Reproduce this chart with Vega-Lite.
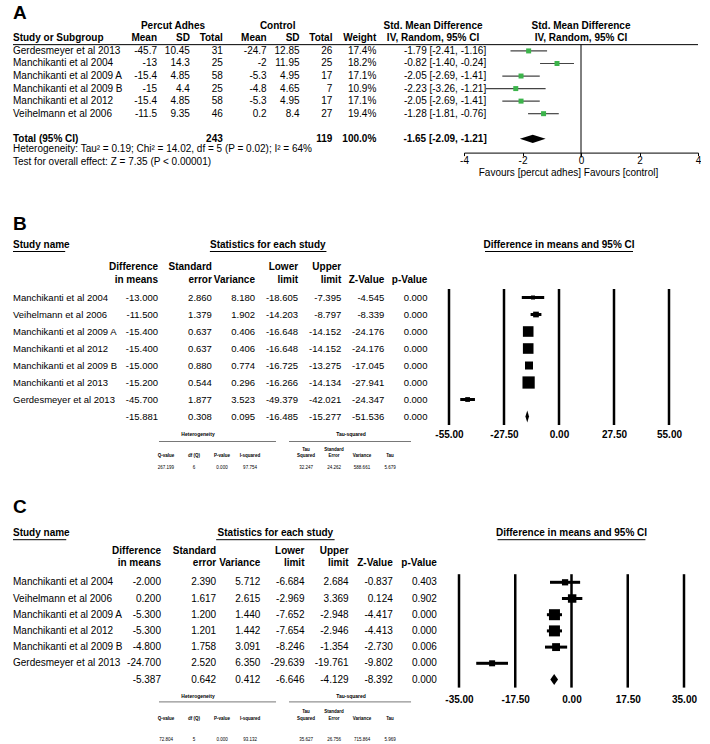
{
"$schema":"https://vega.github.io/schema/vega-lite/v6.json",
"background":"white",
"padding":{"left":12,"top":4,"right":0,"bottom":0},
"spacing":0,
"resolve":{"scale":{"size":"independent"}},
"config":{
 "view":{"stroke":null},
 "mark":{"color":"#000"},
 "text":{"font":"Liberation Sans","fontSize":10,"color":"#000","baseline":"middle"},
 "rule":{"color":"#000"},
 "point":{"filled":true,"opacity":1,"color":"#000"},
 "axis":{"labelFont":"Liberation Sans","titleFont":"Liberation Sans"},
 "locale":{"number":{"decimal":".","thousands":",","grouping":[3],"currency":["$",""],"minus":"-"}}
},
"datasets":{
 "a":[
  {"study":"Gerdesmeyer et al 2013","m1":-45.7,"sd1":10.45,"n1":31,"m2":-24.7,"sd2":12.85,"n2":26,"w":0.174,"smd":-1.79,"lo":-2.41,"hi":-1.16,"ci":"-1.79 [-2.41, -1.16]"},
  {"study":"Manchikanti et al 2004","m1":-13,"sd1":14.3,"n1":25,"m2":-2,"sd2":11.95,"n2":25,"w":0.182,"smd":-0.82,"lo":-1.40,"hi":-0.24,"ci":"-0.82 [-1.40, -0.24]"},
  {"study":"Manchikanti et al 2009 A","m1":-15.4,"sd1":4.85,"n1":58,"m2":-5.3,"sd2":4.95,"n2":17,"w":0.171,"smd":-2.05,"lo":-2.69,"hi":-1.41,"ci":"-2.05 [-2.69, -1.41]"},
  {"study":"Manchikanti et al 2009 B","m1":-15,"sd1":4.4,"n1":25,"m2":-4.8,"sd2":4.65,"n2":7,"w":0.109,"smd":-2.23,"lo":-3.26,"hi":-1.21,"ci":"-2.23 [-3.26, -1.21]"},
  {"study":"Manchikanti et al 2012","m1":-15.4,"sd1":4.85,"n1":58,"m2":-5.3,"sd2":4.95,"n2":17,"w":0.171,"smd":-2.05,"lo":-2.69,"hi":-1.41,"ci":"-2.05 [-2.69, -1.41]"},
  {"study":"Veihelmann et al 2006","m1":-11.5,"sd1":9.35,"n1":46,"m2":0.2,"sd2":8.4,"n2":27,"w":0.194,"smd":-1.28,"lo":-1.81,"hi":-0.76,"ci":"-1.28 [-1.81, -0.76]"}
 ],
 "aTot":[{"row":"Total","n1":243,"n2":119,"w":1,"smd":-1.65,"lo":-2.09,"hi":-1.21,"ci":"-1.65 [-2.09, -1.21]"}],
 "b":[
  {"study":"Manchikanti et al 2004","diff":-13.0,"se":2.86,"var":8.18,"lo":-18.605,"hi":-7.395,"z":-4.545,"p":0.0},
  {"study":"Veihelmann et al 2006","diff":-11.5,"se":1.379,"var":1.902,"lo":-14.203,"hi":-8.797,"z":-8.339,"p":0.0},
  {"study":"Manchikanti et al 2009 A","diff":-15.4,"se":0.637,"var":0.406,"lo":-16.648,"hi":-14.152,"z":-24.176,"p":0.0},
  {"study":"Manchikanti et al 2012","diff":-15.4,"se":0.637,"var":0.406,"lo":-16.648,"hi":-14.152,"z":-24.176,"p":0.0},
  {"study":"Manchikanti et al 2009 B","diff":-15.0,"se":0.88,"var":0.774,"lo":-16.725,"hi":-13.275,"z":-17.045,"p":0.0},
  {"study":"Manchikanti et al 2013","diff":-15.2,"se":0.544,"var":0.296,"lo":-16.266,"hi":-14.134,"z":-27.941,"p":0.0},
  {"study":"Gerdesmeyer et al 2013","diff":-45.7,"se":1.877,"var":3.523,"lo":-49.379,"hi":-42.021,"z":-24.347,"p":0.0},
  {"study":"Summary","diff":-15.881,"se":0.308,"var":0.095,"lo":-16.485,"hi":-15.277,"z":-51.536,"p":0.0}
 ],
 "c":[
  {"study":"Manchikanti et al 2004","diff":-2.0,"se":2.39,"var":5.712,"lo":-6.684,"hi":2.684,"z":-0.837,"p":0.403},
  {"study":"Veihelmann et al 2006","diff":0.2,"se":1.617,"var":2.615,"lo":-2.969,"hi":3.369,"z":0.124,"p":0.902},
  {"study":"Manchikanti et al 2009 A","diff":-5.3,"se":1.2,"var":1.44,"lo":-7.652,"hi":-2.948,"z":-4.417,"p":0.0},
  {"study":"Manchikanti et al 2012","diff":-5.3,"se":1.201,"var":1.442,"lo":-7.654,"hi":-2.946,"z":-4.413,"p":0.0},
  {"study":"Manchikanti et al 2009 B","diff":-4.8,"se":1.758,"var":3.091,"lo":-8.246,"hi":-1.354,"z":-2.73,"p":0.006},
  {"study":"Gerdesmeyer et al 2013","diff":-24.7,"se":2.52,"var":6.35,"lo":-29.639,"hi":-19.761,"z":-9.802,"p":0.0},
  {"study":"Summary","diff":-5.387,"se":0.642,"var":0.412,"lo":-6.646,"hi":-4.129,"z":-8.392,"p":0.0}
 ],
 "bHet":[{"Q":267.199,"df":6,"P":0.0,"I2":97.754,"tau2":32.247,"se":24.262,"var":588.661,"tau":5.679}],
 "cHet":[{"Q":72.804,"df":5,"P":0.0,"I2":93.132,"tau2":35.627,"se":26.756,"var":715.864,"tau":5.969}]
},
"vconcat":[
 {"hconcat":[
  {"width":144,"height":{"step":12.55},"layer":[
   {"data":{"values":[{"row":"_t","text":"A"}]},"mark":{"type":"text","align":"left","fontSize":19,"fontWeight":"bold"},
    "encoding":{"x":{"datum":0,"type":"quantitative","scale":{"domain":[0,1]},"axis":null},"y":{"field":"row","type":"nominal","scale":{"type":"band","padding":0,"domain":["_t","h1","h2","Gerdesmeyer et al 2013","Manchikanti et al 2004","Manchikanti et al 2009 A","Manchikanti et al 2009 B","Manchikanti et al 2012","Veihelmann et al 2006","_b","Total","Het","Test"]},"axis":null},"text":{"field":"text","type":"nominal"}}},
   {"data":{"values":[{"row":"h2","text":"Study or Subgroup"},{"row":"Total","text":"Total (95% CI)"}]},"mark":{"type":"text","align":"left","fontWeight":"bold"},
    "encoding":{"x":{"datum":0,"type":"quantitative","scale":{"domain":[0,1]},"axis":null},"y":{"field":"row","type":"nominal","scale":{"type":"band","padding":0,"domain":["_t","h1","h2","Gerdesmeyer et al 2013","Manchikanti et al 2004","Manchikanti et al 2009 A","Manchikanti et al 2009 B","Manchikanti et al 2012","Veihelmann et al 2006","_b","Total","Het","Test"]},"axis":null},"text":{"field":"text","type":"nominal"}}},
   {"data":{"name":"a"},"mark":{"type":"text","align":"left"},
    "encoding":{"x":{"datum":0,"type":"quantitative","scale":{"domain":[0,1]},"axis":null},"y":{"field":"study","type":"nominal","scale":{"type":"band","padding":0,"domain":["_t","h1","h2","Gerdesmeyer et al 2013","Manchikanti et al 2004","Manchikanti et al 2009 A","Manchikanti et al 2009 B","Manchikanti et al 2012","Veihelmann et al 2006","_b","Total","Het","Test"]},"axis":null},"text":{"field":"study","type":"nominal"}}},
   {"data":{"values":[{"row":"Het","text":"Heterogeneity: Tau² = 0.19; Chi² = 14.02, df = 5 (P = 0.02); I² = 64%"},{"row":"Test","text":"Test for overall effect: Z = 7.35 (P < 0.00001)"}]},"mark":{"type":"text","align":"left","dy":-2},
    "encoding":{"x":{"datum":0,"type":"quantitative","scale":{"domain":[0,1]},"axis":null},"y":{"field":"row","type":"nominal","scale":{"type":"band","padding":0,"domain":["_t","h1","h2","Gerdesmeyer et al 2013","Manchikanti et al 2004","Manchikanti et al 2009 A","Manchikanti et al 2009 B","Manchikanti et al 2012","Veihelmann et al 2006","_b","Total","Het","Test"]},"axis":null},"text":{"field":"text","type":"nominal"}}},
   {"data":{"values":[{}]},"mark":{"type":"rule","strokeWidth":1},
    "encoding":{"y":{"datum":"Gerdesmeyer et al 2013","type":"nominal","bandPosition":0,"scale":{"type":"band","padding":0,"domain":["_t","h1","h2","Gerdesmeyer et al 2013","Manchikanti et al 2004","Manchikanti et al 2009 A","Manchikanti et al 2009 B","Manchikanti et al 2012","Veihelmann et al 2006","_b","Total","Het","Test"]},"axis":null}}}
  ]},
  {"width":307,"height":{"step":12.55},"layer":[
   {"data":{"values":[{"row":"h1","col":"m1","text":"Percut Adhes"}]},"mark":{"type":"text","align":"center","fontWeight":"bold","dx":16},
    "encoding":{"x":{"field":"col","type":"nominal","scale":{"type":"point","domain":["m1","_a","_b","sd1","_c","_d","n1","_e","_f","_g","m2","_h","_i","sd2","_j","_k","n2","_l","_m","_n","w","_o","_p","_q","_r","_s","ci"],"padding":2.66,"align":0},"axis":null},"y":{"field":"row","type":"nominal","scale":{"type":"band","padding":0,"domain":["_t","h1","h2","Gerdesmeyer et al 2013","Manchikanti et al 2004","Manchikanti et al 2009 A","Manchikanti et al 2009 B","Manchikanti et al 2012","Veihelmann et al 2006","_b","Total","Het","Test"]},"axis":null},"text":{"field":"text","type":"nominal"}}},
   {"data":{"values":[{"row":"h1","col":"m2","text":"Control"}]},"mark":{"type":"text","align":"center","fontWeight":"bold","dx":11},
    "encoding":{"x":{"field":"col","type":"nominal","scale":{"type":"point","domain":["m1","_a","_b","sd1","_c","_d","n1","_e","_f","_g","m2","_h","_i","sd2","_j","_k","n2","_l","_m","_n","w","_o","_p","_q","_r","_s","ci"],"padding":2.66,"align":0},"axis":null},"y":{"field":"row","type":"nominal","scale":{"type":"band","padding":0,"domain":["_t","h1","h2","Gerdesmeyer et al 2013","Manchikanti et al 2004","Manchikanti et al 2009 A","Manchikanti et al 2009 B","Manchikanti et al 2012","Veihelmann et al 2006","_b","Total","Het","Test"]},"axis":null},"text":{"field":"text","type":"nominal"}}},
   {"data":{"values":[{"row":"h1","col":"ci","text":"Std. Mean Difference"},{"row":"h2","col":"ci","text":"IV, Random, 95% CI"}]},"mark":{"type":"text","align":"center","fontWeight":"bold","dx":-9},
    "encoding":{"x":{"field":"col","type":"nominal","scale":{"type":"point","domain":["m1","_a","_b","sd1","_c","_d","n1","_e","_f","_g","m2","_h","_i","sd2","_j","_k","n2","_l","_m","_n","w","_o","_p","_q","_r","_s","ci"],"padding":2.66,"align":0},"axis":null},"y":{"field":"row","type":"nominal","scale":{"type":"band","padding":0,"domain":["_t","h1","h2","Gerdesmeyer et al 2013","Manchikanti et al 2004","Manchikanti et al 2009 A","Manchikanti et al 2009 B","Manchikanti et al 2012","Veihelmann et al 2006","_b","Total","Het","Test"]},"axis":null},"text":{"field":"text","type":"nominal"}}},
   {"data":{"values":[{"row":"h2","col":"m1","text":"Mean"},{"row":"h2","col":"sd1","text":"SD"},{"row":"h2","col":"n1","text":"Total"},{"row":"h2","col":"m2","text":"Mean"},{"row":"h2","col":"sd2","text":"SD"},{"row":"h2","col":"n2","text":"Total"},{"row":"h2","col":"w","text":"Weight"}]},"mark":{"type":"text","align":"right","fontWeight":"bold"},
    "encoding":{"x":{"field":"col","type":"nominal","scale":{"type":"point","domain":["m1","_a","_b","sd1","_c","_d","n1","_e","_f","_g","m2","_h","_i","sd2","_j","_k","n2","_l","_m","_n","w","_o","_p","_q","_r","_s","ci"],"padding":2.66,"align":0},"axis":null},"y":{"field":"row","type":"nominal","scale":{"type":"band","padding":0,"domain":["_t","h1","h2","Gerdesmeyer et al 2013","Manchikanti et al 2004","Manchikanti et al 2009 A","Manchikanti et al 2009 B","Manchikanti et al 2012","Veihelmann et al 2006","_b","Total","Het","Test"]},"axis":null},"text":{"field":"text","type":"nominal"}}},
   {"data":{"name":"a"},"transform":[{"fold":["m1","sd1","n1","m2","sd2","n2"],"as":["col","val"]}],"mark":{"type":"text","align":"right"},
    "encoding":{"x":{"field":"col","type":"nominal","scale":{"type":"point","domain":["m1","_a","_b","sd1","_c","_d","n1","_e","_f","_g","m2","_h","_i","sd2","_j","_k","n2","_l","_m","_n","w","_o","_p","_q","_r","_s","ci"],"padding":2.66,"align":0},"axis":null},"y":{"field":"study","type":"nominal","scale":{"type":"band","padding":0,"domain":["_t","h1","h2","Gerdesmeyer et al 2013","Manchikanti et al 2004","Manchikanti et al 2009 A","Manchikanti et al 2009 B","Manchikanti et al 2012","Veihelmann et al 2006","_b","Total","Het","Test"]},"axis":null},"text":{"field":"val","type":"nominal"}}},
   {"data":{"name":"a"},"mark":{"type":"text","align":"right"},
    "encoding":{"x":{"datum":"w","type":"nominal","scale":{"type":"point","domain":["m1","_a","_b","sd1","_c","_d","n1","_e","_f","_g","m2","_h","_i","sd2","_j","_k","n2","_l","_m","_n","w","_o","_p","_q","_r","_s","ci"],"padding":2.66,"align":0},"axis":null},"y":{"field":"study","type":"nominal","scale":{"type":"band","padding":0,"domain":["_t","h1","h2","Gerdesmeyer et al 2013","Manchikanti et al 2004","Manchikanti et al 2009 A","Manchikanti et al 2009 B","Manchikanti et al 2012","Veihelmann et al 2006","_b","Total","Het","Test"]},"axis":null},"text":{"field":"w","type":"quantitative","format":".1%"}}},
   {"data":{"name":"a"},"mark":{"type":"text","align":"center","dx":3},
    "encoding":{"x":{"datum":"ci","type":"nominal","scale":{"type":"point","domain":["m1","_a","_b","sd1","_c","_d","n1","_e","_f","_g","m2","_h","_i","sd2","_j","_k","n2","_l","_m","_n","w","_o","_p","_q","_r","_s","ci"],"padding":2.66,"align":0},"axis":null},"y":{"field":"study","type":"nominal","scale":{"type":"band","padding":0,"domain":["_t","h1","h2","Gerdesmeyer et al 2013","Manchikanti et al 2004","Manchikanti et al 2009 A","Manchikanti et al 2009 B","Manchikanti et al 2012","Veihelmann et al 2006","_b","Total","Het","Test"]},"axis":null},"text":{"field":"ci","type":"nominal"}}},
   {"data":{"name":"aTot"},"transform":[{"fold":["n1","n2"],"as":["col","val"]}],"mark":{"type":"text","align":"right","fontWeight":"bold"},
    "encoding":{"x":{"field":"col","type":"nominal","scale":{"type":"point","domain":["m1","_a","_b","sd1","_c","_d","n1","_e","_f","_g","m2","_h","_i","sd2","_j","_k","n2","_l","_m","_n","w","_o","_p","_q","_r","_s","ci"],"padding":2.66,"align":0},"axis":null},"y":{"field":"row","type":"nominal","scale":{"type":"band","padding":0,"domain":["_t","h1","h2","Gerdesmeyer et al 2013","Manchikanti et al 2004","Manchikanti et al 2009 A","Manchikanti et al 2009 B","Manchikanti et al 2012","Veihelmann et al 2006","_b","Total","Het","Test"]},"axis":null},"text":{"field":"val","type":"nominal"}}},
   {"data":{"name":"aTot"},"mark":{"type":"text","align":"right","fontWeight":"bold"},
    "encoding":{"x":{"datum":"w","type":"nominal","scale":{"type":"point","domain":["m1","_a","_b","sd1","_c","_d","n1","_e","_f","_g","m2","_h","_i","sd2","_j","_k","n2","_l","_m","_n","w","_o","_p","_q","_r","_s","ci"],"padding":2.66,"align":0},"axis":null},"y":{"field":"row","type":"nominal","scale":{"type":"band","padding":0,"domain":["_t","h1","h2","Gerdesmeyer et al 2013","Manchikanti et al 2004","Manchikanti et al 2009 A","Manchikanti et al 2009 B","Manchikanti et al 2012","Veihelmann et al 2006","_b","Total","Het","Test"]},"axis":null},"text":{"field":"w","type":"quantitative","format":".1%"}}},
   {"data":{"name":"aTot"},"mark":{"type":"text","align":"center","fontWeight":"bold","dx":3},
    "encoding":{"x":{"datum":"ci","type":"nominal","scale":{"type":"point","domain":["m1","_a","_b","sd1","_c","_d","n1","_e","_f","_g","m2","_h","_i","sd2","_j","_k","n2","_l","_m","_n","w","_o","_p","_q","_r","_s","ci"],"padding":2.66,"align":0},"axis":null},"y":{"field":"row","type":"nominal","scale":{"type":"band","padding":0,"domain":["_t","h1","h2","Gerdesmeyer et al 2013","Manchikanti et al 2004","Manchikanti et al 2009 A","Manchikanti et al 2009 B","Manchikanti et al 2012","Veihelmann et al 2006","_b","Total","Het","Test"]},"axis":null},"text":{"field":"ci","type":"nominal"}}},
   {"data":{"values":[{}]},"mark":{"type":"rule","strokeWidth":1},
    "encoding":{"y":{"datum":"Gerdesmeyer et al 2013","type":"nominal","bandPosition":0,"scale":{"type":"band","padding":0,"domain":["_t","h1","h2","Gerdesmeyer et al 2013","Manchikanti et al 2004","Manchikanti et al 2009 A","Manchikanti et al 2009 B","Manchikanti et al 2012","Veihelmann et al 2006","_b","Total","Het","Test"]},"axis":null}}}
  ]},
  {"width":234,"height":{"step":12.55},"layer":[
   {"data":{"values":[{"row":"h1","text":"Std. Mean Difference"},{"row":"h2","text":"IV, Random, 95% CI"}]},"mark":{"type":"text","align":"center","fontWeight":"bold"},
    "encoding":{"x":{"datum":0,"type":"quantitative","scale":{"domain":[-4,4],"nice":false,"zero":false},"axis":{"values":[-4,-2,0,2,4],"format":"d","domainColor":"#000","tickColor":"#000","tickSize":3,"labelFontSize":10,"labelColor":"#000","labelPadding":0,"labelFlush":false,"offset":-5,"grid":false,"title":"Favours [percut adhes]   Favours [control]","titleFontSize":10,"titleFontWeight":"normal","titleColor":"#000","titleX":104,"titleY":20,"titleBaseline":"middle","titleAlign":"center"}},
     "y":{"field":"row","type":"nominal","scale":{"type":"band","padding":0,"domain":["_t","h1","h2","Gerdesmeyer et al 2013","Manchikanti et al 2004","Manchikanti et al 2009 A","Manchikanti et al 2009 B","Manchikanti et al 2012","Veihelmann et al 2006","_b","Total","_ax"]},"axis":null},"text":{"field":"text","type":"nominal"}}},
   {"data":{"values":[{}]},"mark":{"type":"rule","strokeWidth":1},
    "encoding":{"y":{"datum":"Gerdesmeyer et al 2013","type":"nominal","bandPosition":0,"scale":{"type":"band","padding":0,"domain":["_t","h1","h2","Gerdesmeyer et al 2013","Manchikanti et al 2004","Manchikanti et al 2009 A","Manchikanti et al 2009 B","Manchikanti et al 2012","Veihelmann et al 2006","_b","Total","_ax"]},"axis":null}}},
   {"data":{"values":[{}]},"mark":{"type":"rule","strokeWidth":1},
    "encoding":{"x":{"datum":0,"type":"quantitative","scale":{"domain":[-4,4],"nice":false,"zero":false}},"y":{"datum":"Gerdesmeyer et al 2013","type":"nominal","bandPosition":0,"scale":{"type":"band","padding":0,"domain":["_t","h1","h2","Gerdesmeyer et al 2013","Manchikanti et al 2004","Manchikanti et al 2009 A","Manchikanti et al 2009 B","Manchikanti et al 2012","Veihelmann et al 2006","_b","Total","_ax"]},"axis":null},"y2":{"value":"height"}}},
   {"data":{"name":"a"},"mark":{"type":"rule","color":"#444","strokeWidth":1.2},
    "encoding":{"x":{"field":"lo","type":"quantitative","scale":{"domain":[-4,4],"nice":false,"zero":false}},"x2":{"field":"hi"},"y":{"field":"study","type":"nominal","scale":{"type":"band","padding":0,"domain":["_t","h1","h2","Gerdesmeyer et al 2013","Manchikanti et al 2004","Manchikanti et al 2009 A","Manchikanti et al 2009 B","Manchikanti et al 2012","Veihelmann et al 2006","_b","Total","_ax"]},"axis":null}}},
   {"data":{"name":"a"},"mark":{"type":"point","shape":"square","filled":true,"color":"#3cb44b","size":25,"opacity":1},
    "encoding":{"x":{"field":"smd","type":"quantitative","scale":{"domain":[-4,4],"nice":false,"zero":false}},"y":{"field":"study","type":"nominal","scale":{"type":"band","padding":0,"domain":["_t","h1","h2","Gerdesmeyer et al 2013","Manchikanti et al 2004","Manchikanti et al 2009 A","Manchikanti et al 2009 B","Manchikanti et al 2012","Veihelmann et al 2006","_b","Total","_ax"]},"axis":null}}},
   {"data":{"name":"aTot"},"mark":{"type":"point","shape":"M-1,0L0,-0.32L1,0L0,0.32Z","filled":true,"color":"#000","size":662,"opacity":1},
    "encoding":{"x":{"field":"smd","type":"quantitative","scale":{"domain":[-4,4],"nice":false,"zero":false}},"y":{"field":"row","type":"nominal","scale":{"type":"band","padding":0,"domain":["_t","h1","h2","Gerdesmeyer et al 2013","Manchikanti et al 2004","Manchikanti et al 2009 A","Manchikanti et al 2009 B","Manchikanti et al 2012","Veihelmann et al 2006","_b","Total","_ax"]},"axis":null}}}
  ]}
 ],"spacing":0,"bounds":"flush"},
 {"hconcat":[
  {"width":145,"height":{"step":17},"layer":[
   {"data":{"values":[{"row":"_t","text":"B"}]},"mark":{"type":"text","align":"left","fontSize":19,"fontWeight":"bold","dy":11},
    "encoding":{"x":{"datum":0,"type":"quantitative","scale":{"domain":[0,1]},"axis":null},"y":{"field":"row","type":"nominal","scale":{"type":"band","paddingInner":0,"paddingOuter":0.265,"align":1,"domain":["_p1","_t","_x","_s","h1","h2","Manchikanti et al 2004","Veihelmann et al 2006","Manchikanti et al 2009 A","Manchikanti et al 2012","Manchikanti et al 2009 B","Manchikanti et al 2013","Gerdesmeyer et al 2013","Summary","het1","het2","het3"]},"axis":null},"text":{"field":"text","type":"nominal"}}},
   {"data":{"values":[{"row":"_s","text":"Study name"}]},"mark":{"type":"text","align":"left","fontWeight":"bold","dy":-2},
    "encoding":{"x":{"datum":0,"type":"quantitative","scale":{"domain":[0,1]},"axis":null},"y":{"field":"row","type":"nominal","scale":{"type":"band","paddingInner":0,"paddingOuter":0.265,"align":1,"domain":["_p1","_t","_x","_s","h1","h2","Manchikanti et al 2004","Veihelmann et al 2006","Manchikanti et al 2009 A","Manchikanti et al 2012","Manchikanti et al 2009 B","Manchikanti et al 2013","Gerdesmeyer et al 2013","Summary","het1","het2","het3"]},"axis":null},"text":{"field":"text","type":"nominal"}}},
   {"data":{"values":[{}]},"mark":{"type":"rule","strokeWidth":1,"yOffset":5},
    "encoding":{"x":{"datum":0,"type":"quantitative","scale":{"domain":[0,1]},"axis":null},"x2":{"datum":0.36},"y":{"datum":"_s","type":"nominal","bandPosition":0.5,"scale":{"type":"band","paddingInner":0,"paddingOuter":0.265,"align":1,"domain":["_p1","_t","_x","_s","h1","h2","Manchikanti et al 2004","Veihelmann et al 2006","Manchikanti et al 2009 A","Manchikanti et al 2012","Manchikanti et al 2009 B","Manchikanti et al 2013","Gerdesmeyer et al 2013","Summary","het1","het2","het3"]},"axis":null}}},
   {"data":{"name":"b"},"transform":[{"filter":"datum.study != 'Summary'"}],"mark":{"type":"text","align":"left","fontSize":9.5},
    "encoding":{"x":{"datum":0,"type":"quantitative","scale":{"domain":[0,1]},"axis":null},"y":{"field":"study","type":"nominal","scale":{"type":"band","paddingInner":0,"paddingOuter":0.265,"align":1,"domain":["_p1","_t","_x","_s","h1","h2","Manchikanti et al 2004","Veihelmann et al 2006","Manchikanti et al 2009 A","Manchikanti et al 2012","Manchikanti et al 2009 B","Manchikanti et al 2013","Gerdesmeyer et al 2013","Summary","het1","het2","het3"]},"axis":null},"text":{"field":"study","type":"nominal"}}}
  ]},
  {"width":291,"height":{"step":17},"resolve":{"scale":{"x":"independent"}},"layer":[
   {"data":{"values":[{"row":"_s","col":"_8","text":"Statistics for each study"}]},"mark":{"type":"text","align":"center","fontWeight":"bold","dx":2,"dy":-2},
    "encoding":{"x":{"field":"col","type":"nominal","scale":{"type":"point","domain":["diff","_1","_2","_3","_4","se","_5","_6","_7","var","_8","_9","_10","lo","_11","_12","_13","hi","_14","_15","_16","z","_17","_18","_19","p"],"padding":1.695,"align":0},"axis":null},"y":{"field":"row","type":"nominal","scale":{"type":"band","paddingInner":0,"paddingOuter":0.265,"align":1,"domain":["_p1","_t","_x","_s","h1","h2","Manchikanti et al 2004","Veihelmann et al 2006","Manchikanti et al 2009 A","Manchikanti et al 2012","Manchikanti et al 2009 B","Manchikanti et al 2013","Gerdesmeyer et al 2013","Summary","het1","het2","het3"]},"axis":null},"text":{"field":"text","type":"nominal"}}},
   {"data":{"values":[{}]},"mark":{"type":"rule","strokeWidth":1,"xOffset":-2,"x2Offset":-4,"yOffset":5},
    "encoding":{"x":{"datum":"se","type":"nominal","scale":{"type":"point","domain":["diff","_1","_2","_3","_4","se","_5","_6","_7","var","_8","_9","_10","lo","_11","_12","_13","hi","_14","_15","_16","z","_17","_18","_19","p"],"padding":1.695,"align":0},"axis":null},"x2":{"datum":"_13"},"y":{"datum":"_s","type":"nominal","bandPosition":0.5,"scale":{"type":"band","paddingInner":0,"paddingOuter":0.265,"align":1,"domain":["_p1","_t","_x","_s","h1","h2","Manchikanti et al 2004","Veihelmann et al 2006","Manchikanti et al 2009 A","Manchikanti et al 2012","Manchikanti et al 2009 B","Manchikanti et al 2013","Gerdesmeyer et al 2013","Summary","het1","het2","het3"]},"axis":null}}},
   {"data":{"values":[{"row":"h1","col":"diff","text":"Difference"},{"row":"h1","col":"se","text":"Standard"},{"row":"h1","col":"lo","text":"Lower"},{"row":"h1","col":"hi","text":"Upper"}]},"mark":{"type":"text","align":"right","fontWeight":"bold","dy":3},
    "encoding":{"x":{"field":"col","type":"nominal","scale":{"type":"point","domain":["diff","_1","_2","_3","_4","se","_5","_6","_7","var","_8","_9","_10","lo","_11","_12","_13","hi","_14","_15","_16","z","_17","_18","_19","p"],"padding":1.695,"align":0},"axis":null},"y":{"field":"row","type":"nominal","scale":{"type":"band","paddingInner":0,"paddingOuter":0.265,"align":1,"domain":["_p1","_t","_x","_s","h1","h2","Manchikanti et al 2004","Veihelmann et al 2006","Manchikanti et al 2009 A","Manchikanti et al 2012","Manchikanti et al 2009 B","Manchikanti et al 2013","Gerdesmeyer et al 2013","Summary","het1","het2","het3"]},"axis":null},"text":{"field":"text","type":"nominal"}}},
   {"data":{"values":[{"row":"h2","col":"diff","text":"in means"},{"row":"h2","col":"se","text":"error"},{"row":"h2","col":"var","text":"Variance"},{"row":"h2","col":"lo","text":"limit"},{"row":"h2","col":"hi","text":"limit"},{"row":"h2","col":"z","text":"Z-Value"},{"row":"h2","col":"p","text":"p-Value"}]},"mark":{"type":"text","align":"right","fontWeight":"bold","dy":-1},
    "encoding":{"x":{"field":"col","type":"nominal","scale":{"type":"point","domain":["diff","_1","_2","_3","_4","se","_5","_6","_7","var","_8","_9","_10","lo","_11","_12","_13","hi","_14","_15","_16","z","_17","_18","_19","p"],"padding":1.695,"align":0},"axis":null},"y":{"field":"row","type":"nominal","scale":{"type":"band","paddingInner":0,"paddingOuter":0.265,"align":1,"domain":["_p1","_t","_x","_s","h1","h2","Manchikanti et al 2004","Veihelmann et al 2006","Manchikanti et al 2009 A","Manchikanti et al 2012","Manchikanti et al 2009 B","Manchikanti et al 2013","Gerdesmeyer et al 2013","Summary","het1","het2","het3"]},"axis":null},"text":{"field":"text","type":"nominal"}}},
   {"data":{"name":"b"},"transform":[{"fold":["diff","se","var","lo","hi","z","p"],"as":["col","val"]}],"mark":{"type":"text","align":"right","fontSize":9.5},
    "encoding":{"x":{"field":"col","type":"nominal","scale":{"type":"point","domain":["diff","_1","_2","_3","_4","se","_5","_6","_7","var","_8","_9","_10","lo","_11","_12","_13","hi","_14","_15","_16","z","_17","_18","_19","p"],"padding":1.695,"align":0},"axis":null},"y":{"field":"study","type":"nominal","scale":{"type":"band","paddingInner":0,"paddingOuter":0.265,"align":1,"domain":["_p1","_t","_x","_s","h1","h2","Manchikanti et al 2004","Veihelmann et al 2006","Manchikanti et al 2009 A","Manchikanti et al 2012","Manchikanti et al 2009 B","Manchikanti et al 2013","Gerdesmeyer et al 2013","Summary","het1","het2","het3"]},"axis":null},"text":{"field":"val","type":"quantitative","format":".3f"}}},
   {"data":{"values":[{"row":"het1","hcol":"df","text":"Heterogeneity"}]},"mark":{"type":"text","align":"center","fontWeight":"bold","fontSize":5,"dx":4},
    "encoding":{"x":{"field":"hcol","type":"nominal","scale":{"type":"point","domain":["Q","df","P","I2","_g","tau2","se","var","tau","_e"],"padding":0.696,"align":0.205},"axis":null},"y":{"field":"row","type":"nominal","scale":{"type":"band","paddingInner":0,"paddingOuter":0.265,"align":1,"domain":["_p1","_t","_x","_s","h1","h2","Manchikanti et al 2004","Veihelmann et al 2006","Manchikanti et al 2009 A","Manchikanti et al 2012","Manchikanti et al 2009 B","Manchikanti et al 2013","Gerdesmeyer et al 2013","Summary","het1","het2","het3"]},"axis":null},"text":{"field":"text","type":"nominal"}}},
   {"data":{"values":[{"row":"het1","hcol":"se","text":"Tau-squared"}]},"mark":{"type":"text","align":"center","fontWeight":"bold","fontSize":5,"dx":17},
    "encoding":{"x":{"field":"hcol","type":"nominal","scale":{"type":"point","domain":["Q","df","P","I2","_g","tau2","se","var","tau","_e"],"padding":0.696,"align":0.205},"axis":null},"y":{"field":"row","type":"nominal","scale":{"type":"band","paddingInner":0,"paddingOuter":0.265,"align":1,"domain":["_p1","_t","_x","_s","h1","h2","Manchikanti et al 2004","Veihelmann et al 2006","Manchikanti et al 2009 A","Manchikanti et al 2012","Manchikanti et al 2009 B","Manchikanti et al 2013","Gerdesmeyer et al 2013","Summary","het1","het2","het3"]},"axis":null},"text":{"field":"text","type":"nominal"}}},
   {"data":{"values":[{}]},"mark":{"type":"rule","color":"#555","strokeWidth":0.8,"xOffset":-7,"x2Offset":-2,"yOffset":8},
    "encoding":{"x":{"datum":"Q","type":"nominal","scale":{"type":"point","domain":["Q","df","P","I2","_g","tau2","se","var","tau","_e"],"padding":0.696,"align":0.205},"axis":null},"x2":{"datum":"_g"},"y":{"datum":"het1","type":"nominal","bandPosition":0.5,"scale":{"type":"band","paddingInner":0,"paddingOuter":0.265,"align":1,"domain":["_p1","_t","_x","_s","h1","h2","Manchikanti et al 2004","Veihelmann et al 2006","Manchikanti et al 2009 A","Manchikanti et al 2012","Manchikanti et al 2009 B","Manchikanti et al 2013","Gerdesmeyer et al 2013","Summary","het1","het2","het3"]},"axis":null}}},
   {"data":{"values":[{}]},"mark":{"type":"rule","color":"#555","strokeWidth":0.8,"xOffset":-17,"x2Offset":-7,"yOffset":8},
    "encoding":{"x":{"datum":"tau2","type":"nominal","scale":{"type":"point","domain":["Q","df","P","I2","_g","tau2","se","var","tau","_e"],"padding":0.696,"align":0.205},"axis":null},"x2":{"datum":"_e"},"y":{"datum":"het1","type":"nominal","bandPosition":0.5,"scale":{"type":"band","paddingInner":0,"paddingOuter":0.265,"align":1,"domain":["_p1","_t","_x","_s","h1","h2","Manchikanti et al 2004","Veihelmann et al 2006","Manchikanti et al 2009 A","Manchikanti et al 2012","Manchikanti et al 2009 B","Manchikanti et al 2013","Gerdesmeyer et al 2013","Summary","het1","het2","het3"]},"axis":null}}},
   {"data":{"values":[{"row":"het2","hcol":"tau2","text":"Tau"},{"row":"het2","hcol":"se","text":"Standard"}]},"mark":{"type":"text","align":"center","fontWeight":"bold","fontSize":4.5,"dy":-1},
    "encoding":{"x":{"field":"hcol","type":"nominal","scale":{"type":"point","domain":["Q","df","P","I2","_g","tau2","se","var","tau","_e"],"padding":0.696,"align":0.205},"axis":null},"y":{"field":"row","type":"nominal","scale":{"type":"band","paddingInner":0,"paddingOuter":0.265,"align":1,"domain":["_p1","_t","_x","_s","h1","h2","Manchikanti et al 2004","Veihelmann et al 2006","Manchikanti et al 2009 A","Manchikanti et al 2012","Manchikanti et al 2009 B","Manchikanti et al 2013","Gerdesmeyer et al 2013","Summary","het1","het2","het3"]},"axis":null},"text":{"field":"text","type":"nominal"}}},
   {"data":{"values":[{"row":"het2","hcol":"Q","text":"Q-value"},{"row":"het2","hcol":"df","text":"df (Q)"},{"row":"het2","hcol":"P","text":"P-value"},{"row":"het2","hcol":"I2","text":"I-squared"},{"row":"het2","hcol":"tau2","text":"Squared"},{"row":"het2","hcol":"se","text":"Error"},{"row":"het2","hcol":"var","text":"Variance"},{"row":"het2","hcol":"tau","text":"Tau"}]},"mark":{"type":"text","align":"center","fontWeight":"bold","fontSize":4.5,"dy":5},
    "encoding":{"x":{"field":"hcol","type":"nominal","scale":{"type":"point","domain":["Q","df","P","I2","_g","tau2","se","var","tau","_e"],"padding":0.696,"align":0.205},"axis":null},"y":{"field":"row","type":"nominal","scale":{"type":"band","paddingInner":0,"paddingOuter":0.265,"align":1,"domain":["_p1","_t","_x","_s","h1","h2","Manchikanti et al 2004","Veihelmann et al 2006","Manchikanti et al 2009 A","Manchikanti et al 2012","Manchikanti et al 2009 B","Manchikanti et al 2013","Gerdesmeyer et al 2013","Summary","het1","het2","het3"]},"axis":null},"text":{"field":"text","type":"nominal"}}},
   {"data":{"name":"bHet"},"transform":[{"fold":["Q","P","I2","tau2","se","var","tau"],"as":["hcol","hval"]}],"mark":{"type":"text","align":"center","fontSize":4.5},
    "encoding":{"x":{"field":"hcol","type":"nominal","scale":{"type":"point","domain":["Q","df","P","I2","_g","tau2","se","var","tau","_e"],"padding":0.696,"align":0.205},"axis":null},"y":{"datum":"het3","type":"nominal","scale":{"type":"band","paddingInner":0,"paddingOuter":0.265,"align":1,"domain":["_p1","_t","_x","_s","h1","h2","Manchikanti et al 2004","Veihelmann et al 2006","Manchikanti et al 2009 A","Manchikanti et al 2012","Manchikanti et al 2009 B","Manchikanti et al 2013","Gerdesmeyer et al 2013","Summary","het1","het2","het3"]},"axis":null},"text":{"field":"hval","type":"quantitative","format":".3f"}}},
   {"data":{"name":"bHet"},"mark":{"type":"text","align":"center","fontSize":4.5},
    "encoding":{"x":{"datum":"df","type":"nominal","scale":{"type":"point","domain":["Q","df","P","I2","_g","tau2","se","var","tau","_e"],"padding":0.696,"align":0.205},"axis":null},"y":{"datum":"het3","type":"nominal","scale":{"type":"band","paddingInner":0,"paddingOuter":0.265,"align":1,"domain":["_p1","_t","_x","_s","h1","h2","Manchikanti et al 2004","Veihelmann et al 2006","Manchikanti et al 2009 A","Manchikanti et al 2012","Manchikanti et al 2009 B","Manchikanti et al 2013","Gerdesmeyer et al 2013","Summary","het1","het2","het3"]},"axis":null},"text":{"field":"df","type":"nominal"}}}
  ]},
  {"width":220,"height":{"step":17},"layer":[
   {"data":{"values":[{"row":"_s","text":"Difference in means and 95% CI"}]},"mark":{"type":"text","align":"center","fontWeight":"bold","dy":-2},
    "encoding":{"x":{"datum":0,"type":"quantitative","scale":{"domain":[-55,55],"nice":false,"zero":false},"axis":{"values":[-55,-27.5,0,27.5,55],"format":".2f","domain":false,"ticks":false,"grid":false,"labelFontSize":10,"labelFontWeight":"bold","labelColor":"#000","labelPadding":4,"labelFlush":false,"title":null}},
     "y":{"field":"row","type":"nominal","scale":{"type":"band","paddingInner":0,"paddingOuter":0.265,"align":1,"domain":["_p1","_t","_x","_s","h1","h2","Manchikanti et al 2004","Veihelmann et al 2006","Manchikanti et al 2009 A","Manchikanti et al 2012","Manchikanti et al 2009 B","Manchikanti et al 2013","Gerdesmeyer et al 2013","Summary"]},"axis":null},"text":{"field":"text","type":"nominal"}}},
   {"data":{"values":[{}]},"mark":{"type":"rule","strokeWidth":1,"yOffset":5},
    "encoding":{"x":{"datum":-37,"type":"quantitative","scale":{"domain":[-55,55],"nice":false,"zero":false}},"x2":{"datum":37},"y":{"datum":"_s","type":"nominal","bandPosition":0.5,"scale":{"type":"band","paddingInner":0,"paddingOuter":0.265,"align":1,"domain":["_p1","_t","_x","_s","h1","h2","Manchikanti et al 2004","Veihelmann et al 2006","Manchikanti et al 2009 A","Manchikanti et al 2012","Manchikanti et al 2009 B","Manchikanti et al 2013","Gerdesmeyer et al 2013","Summary"]},"axis":null}}},
   {"data":{"values":[{"t":-55},{"t":-27.5},{"t":0},{"t":27.5},{"t":55}]},"mark":{"type":"rule","strokeWidth":2.5},
    "encoding":{"x":{"field":"t","type":"quantitative","scale":{"domain":[-55,55],"nice":false,"zero":false}},"y":{"datum":"Manchikanti et al 2004","type":"nominal","bandPosition":0,"scale":{"type":"band","paddingInner":0,"paddingOuter":0.265,"align":1,"domain":["_p1","_t","_x","_s","h1","h2","Manchikanti et al 2004","Veihelmann et al 2006","Manchikanti et al 2009 A","Manchikanti et al 2012","Manchikanti et al 2009 B","Manchikanti et al 2013","Gerdesmeyer et al 2013","Summary"]},"axis":null},"y2":{"value":"height"}}},
   {"data":{"name":"b"},"transform":[{"filter":"datum.study != 'Summary'"}],"mark":{"type":"rule","strokeWidth":3},
    "encoding":{"x":{"field":"lo","type":"quantitative","scale":{"domain":[-55,55],"nice":false,"zero":false}},"x2":{"field":"hi"},"y":{"field":"study","type":"nominal","scale":{"type":"band","paddingInner":0,"paddingOuter":0.265,"align":1,"domain":["_p1","_t","_x","_s","h1","h2","Manchikanti et al 2004","Veihelmann et al 2006","Manchikanti et al 2009 A","Manchikanti et al 2012","Manchikanti et al 2009 B","Manchikanti et al 2013","Gerdesmeyer et al 2013","Summary"]},"axis":null}}},
   {"data":{"name":"b"},"transform":[{"filter":"datum.study != 'Summary'"}],"mark":{"type":"point","shape":"square","filled":true,"opacity":1,"color":"#000"},
    "encoding":{"x":{"field":"diff","type":"quantitative","scale":{"domain":[-55,55],"nice":false,"zero":false}},"y":{"field":"study","type":"nominal","scale":{"type":"band","paddingInner":0,"paddingOuter":0.265,"align":1,"domain":["_p1","_t","_x","_s","h1","h2","Manchikanti et al 2004","Veihelmann et al 2006","Manchikanti et al 2009 A","Manchikanti et al 2012","Manchikanti et al 2009 B","Manchikanti et al 2013","Gerdesmeyer et al 2013","Summary"]},"axis":null},
     "size":{"field":"var","type":"quantitative","scale":{"type":"pow","exponent":-1,"domain":[0.296,8.18],"range":[150,16],"zero":false},"legend":null}}},
   {"data":{"name":"b"},"transform":[{"filter":"datum.study == 'Summary'"}],"mark":{"type":"point","shape":"M-0.3,0L0,-1L0.3,0L0,1Z","filled":true,"opacity":1,"color":"#000","size":144},
    "encoding":{"x":{"field":"diff","type":"quantitative","scale":{"domain":[-55,55],"nice":false,"zero":false}},"y":{"field":"study","type":"nominal","scale":{"type":"band","paddingInner":0,"paddingOuter":0.265,"align":1,"domain":["_p1","_t","_x","_s","h1","h2","Manchikanti et al 2004","Veihelmann et al 2006","Manchikanti et al 2009 A","Manchikanti et al 2012","Manchikanti et al 2009 B","Manchikanti et al 2013","Gerdesmeyer et al 2013","Summary"]},"axis":null}}}
  ]}
 ],"spacing":0,"bounds":"flush"},
 {"hconcat":[
  {"width":148,"height":{"step":16.2},"layer":[
   {"data":{"values":[{"row":"_t","text":"C"}]},"mark":{"type":"text","align":"left","fontSize":19,"fontWeight":"bold","dy":6},
    "encoding":{"x":{"datum":0,"type":"quantitative","scale":{"domain":[0,1]},"axis":null},"y":{"field":"row","type":"nominal","scale":{"type":"band","padding":0,"domain":["_p1","_t","_x","_s","h1","h2","Manchikanti et al 2004","Veihelmann et al 2006","Manchikanti et al 2009 A","Manchikanti et al 2012","Manchikanti et al 2009 B","Gerdesmeyer et al 2013","Summary","het1","het2","het3","het4"]},"axis":null},"text":{"field":"text","type":"nominal"}}},
   {"data":{"values":[{"row":"_s","text":"Study name"}]},"mark":{"type":"text","align":"left","fontWeight":"bold","dy":-1},
    "encoding":{"x":{"datum":0,"type":"quantitative","scale":{"domain":[0,1]},"axis":null},"y":{"field":"row","type":"nominal","scale":{"type":"band","padding":0,"domain":["_p1","_t","_x","_s","h1","h2","Manchikanti et al 2004","Veihelmann et al 2006","Manchikanti et al 2009 A","Manchikanti et al 2012","Manchikanti et al 2009 B","Gerdesmeyer et al 2013","Summary","het1","het2","het3","het4"]},"axis":null},"text":{"field":"text","type":"nominal"}}},
   {"data":{"values":[{}]},"mark":{"type":"rule","strokeWidth":1,"yOffset":6},
    "encoding":{"x":{"datum":0,"type":"quantitative","scale":{"domain":[0,1]},"axis":null},"x2":{"datum":0.36},"y":{"datum":"_s","type":"nominal","bandPosition":0.5,"scale":{"type":"band","padding":0,"domain":["_p1","_t","_x","_s","h1","h2","Manchikanti et al 2004","Veihelmann et al 2006","Manchikanti et al 2009 A","Manchikanti et al 2012","Manchikanti et al 2009 B","Gerdesmeyer et al 2013","Summary","het1","het2","het3","het4"]},"axis":null}}},
   {"data":{"name":"c"},"transform":[{"filter":"datum.study != 'Summary'"}],"mark":{"type":"text","align":"left","fontSize":10},
    "encoding":{"x":{"datum":0,"type":"quantitative","scale":{"domain":[0,1]},"axis":null},"y":{"field":"study","type":"nominal","scale":{"type":"band","padding":0,"domain":["_p1","_t","_x","_s","h1","h2","Manchikanti et al 2004","Veihelmann et al 2006","Manchikanti et al 2009 A","Manchikanti et al 2012","Manchikanti et al 2009 B","Gerdesmeyer et al 2013","Summary","het1","het2","het3","het4"]},"axis":null},"text":{"field":"study","type":"nominal"}}}
  ]},
  {"width":298,"height":{"step":16.2},"resolve":{"scale":{"x":"independent"}},"layer":[
   {"data":{"values":[{"row":"_s","col":"_8","text":"Statistics for each study"}]},"mark":{"type":"text","align":"center","fontWeight":"bold","dx":4,"dy":-1},
    "encoding":{"x":{"field":"col","type":"nominal","scale":{"type":"point","domain":["diff","_1","_2","_3","_4","se","_5","_6","_7","var","_8","_9","_10","lo","_11","_12","_13","hi","_14","_15","_16","z","_17","_18","_19","p"],"padding":1.69,"align":0},"axis":null},"y":{"field":"row","type":"nominal","scale":{"type":"band","padding":0,"domain":["_p1","_t","_x","_s","h1","h2","Manchikanti et al 2004","Veihelmann et al 2006","Manchikanti et al 2009 A","Manchikanti et al 2012","Manchikanti et al 2009 B","Gerdesmeyer et al 2013","Summary","het1","het2","het3","het4"]},"axis":null},"text":{"field":"text","type":"nominal"}}},
   {"data":{"values":[{}]},"mark":{"type":"rule","strokeWidth":1,"xOffset":0,"x2Offset":-3,"yOffset":6},
    "encoding":{"x":{"datum":"se","type":"nominal","scale":{"type":"point","domain":["diff","_1","_2","_3","_4","se","_5","_6","_7","var","_8","_9","_10","lo","_11","_12","_13","hi","_14","_15","_16","z","_17","_18","_19","p"],"padding":1.69,"align":0},"axis":null},"x2":{"datum":"_13"},"y":{"datum":"_s","type":"nominal","bandPosition":0.5,"scale":{"type":"band","padding":0,"domain":["_p1","_t","_x","_s","h1","h2","Manchikanti et al 2004","Veihelmann et al 2006","Manchikanti et al 2009 A","Manchikanti et al 2012","Manchikanti et al 2009 B","Gerdesmeyer et al 2013","Summary","het1","het2","het3","het4"]},"axis":null}}},
   {"data":{"values":[{"row":"h1","col":"diff","text":"Difference"},{"row":"h1","col":"se","text":"Standard"},{"row":"h1","col":"lo","text":"Lower"},{"row":"h1","col":"hi","text":"Upper"}]},"mark":{"type":"text","align":"right","fontWeight":"bold","dy":1},
    "encoding":{"x":{"field":"col","type":"nominal","scale":{"type":"point","domain":["diff","_1","_2","_3","_4","se","_5","_6","_7","var","_8","_9","_10","lo","_11","_12","_13","hi","_14","_15","_16","z","_17","_18","_19","p"],"padding":1.69,"align":0},"axis":null},"y":{"field":"row","type":"nominal","scale":{"type":"band","padding":0,"domain":["_p1","_t","_x","_s","h1","h2","Manchikanti et al 2004","Veihelmann et al 2006","Manchikanti et al 2009 A","Manchikanti et al 2012","Manchikanti et al 2009 B","Gerdesmeyer et al 2013","Summary","het1","het2","het3","het4"]},"axis":null},"text":{"field":"text","type":"nominal"}}},
   {"data":{"values":[{"row":"h2","col":"diff","text":"in means"},{"row":"h2","col":"se","text":"error"},{"row":"h2","col":"var","text":"Variance"},{"row":"h2","col":"lo","text":"limit"},{"row":"h2","col":"hi","text":"limit"},{"row":"h2","col":"z","text":"Z-Value"},{"row":"h2","col":"p","text":"p-Value"}]},"mark":{"type":"text","align":"right","fontWeight":"bold","dy":-3},
    "encoding":{"x":{"field":"col","type":"nominal","scale":{"type":"point","domain":["diff","_1","_2","_3","_4","se","_5","_6","_7","var","_8","_9","_10","lo","_11","_12","_13","hi","_14","_15","_16","z","_17","_18","_19","p"],"padding":1.69,"align":0},"axis":null},"y":{"field":"row","type":"nominal","scale":{"type":"band","padding":0,"domain":["_p1","_t","_x","_s","h1","h2","Manchikanti et al 2004","Veihelmann et al 2006","Manchikanti et al 2009 A","Manchikanti et al 2012","Manchikanti et al 2009 B","Gerdesmeyer et al 2013","Summary","het1","het2","het3","het4"]},"axis":null},"text":{"field":"text","type":"nominal"}}},
   {"data":{"name":"c"},"transform":[{"fold":["diff","se","var","lo","hi","z","p"],"as":["col","val"]}],"mark":{"type":"text","align":"right","fontSize":10},
    "encoding":{"x":{"field":"col","type":"nominal","scale":{"type":"point","domain":["diff","_1","_2","_3","_4","se","_5","_6","_7","var","_8","_9","_10","lo","_11","_12","_13","hi","_14","_15","_16","z","_17","_18","_19","p"],"padding":1.69,"align":0},"axis":null},"y":{"field":"study","type":"nominal","scale":{"type":"band","padding":0,"domain":["_p1","_t","_x","_s","h1","h2","Manchikanti et al 2004","Veihelmann et al 2006","Manchikanti et al 2009 A","Manchikanti et al 2012","Manchikanti et al 2009 B","Gerdesmeyer et al 2013","Summary","het1","het2","het3","het4"]},"axis":null},"text":{"field":"val","type":"quantitative","format":".3f"}}},
   {"data":{"values":[{"row":"het1","hcol":"df","text":"Heterogeneity"}]},"mark":{"type":"text","align":"center","fontWeight":"bold","fontSize":5,"dx":4},
    "encoding":{"x":{"field":"hcol","type":"nominal","scale":{"type":"point","domain":["Q","df","P","I2","_g","tau2","se","var","tau","_e"],"padding":0.821,"align":0.109},"axis":null},"y":{"field":"row","type":"nominal","scale":{"type":"band","padding":0,"domain":["_p1","_t","_x","_s","h1","h2","Manchikanti et al 2004","Veihelmann et al 2006","Manchikanti et al 2009 A","Manchikanti et al 2012","Manchikanti et al 2009 B","Gerdesmeyer et al 2013","Summary","het1","het2","het3","het4"]},"axis":null},"text":{"field":"text","type":"nominal"}}},
   {"data":{"values":[{"row":"het1","hcol":"se","text":"Tau-squared"}]},"mark":{"type":"text","align":"center","fontWeight":"bold","fontSize":5,"dx":17},
    "encoding":{"x":{"field":"hcol","type":"nominal","scale":{"type":"point","domain":["Q","df","P","I2","_g","tau2","se","var","tau","_e"],"padding":0.821,"align":0.109},"axis":null},"y":{"field":"row","type":"nominal","scale":{"type":"band","padding":0,"domain":["_p1","_t","_x","_s","h1","h2","Manchikanti et al 2004","Veihelmann et al 2006","Manchikanti et al 2009 A","Manchikanti et al 2012","Manchikanti et al 2009 B","Gerdesmeyer et al 2013","Summary","het1","het2","het3","het4"]},"axis":null},"text":{"field":"text","type":"nominal"}}},
   {"data":{"values":[{}]},"mark":{"type":"rule","color":"#555","strokeWidth":0.8,"xOffset":-7,"x2Offset":-2,"yOffset":-10},
    "encoding":{"x":{"datum":"Q","type":"nominal","scale":{"type":"point","domain":["Q","df","P","I2","_g","tau2","se","var","tau","_e"],"padding":0.821,"align":0.109},"axis":null},"x2":{"datum":"_g"},"y":{"datum":"het2","type":"nominal","bandPosition":0.5,"scale":{"type":"band","padding":0,"domain":["_p1","_t","_x","_s","h1","h2","Manchikanti et al 2004","Veihelmann et al 2006","Manchikanti et al 2009 A","Manchikanti et al 2012","Manchikanti et al 2009 B","Gerdesmeyer et al 2013","Summary","het1","het2","het3","het4"]},"axis":null}}},
   {"data":{"values":[{}]},"mark":{"type":"rule","color":"#555","strokeWidth":0.8,"xOffset":-17,"x2Offset":-7,"yOffset":-10},
    "encoding":{"x":{"datum":"tau2","type":"nominal","scale":{"type":"point","domain":["Q","df","P","I2","_g","tau2","se","var","tau","_e"],"padding":0.821,"align":0.109},"axis":null},"x2":{"datum":"_e"},"y":{"datum":"het2","type":"nominal","bandPosition":0.5,"scale":{"type":"band","padding":0,"domain":["_p1","_t","_x","_s","h1","h2","Manchikanti et al 2004","Veihelmann et al 2006","Manchikanti et al 2009 A","Manchikanti et al 2012","Manchikanti et al 2009 B","Gerdesmeyer et al 2013","Summary","het1","het2","het3","het4"]},"axis":null}}},
   {"data":{"values":[{"row":"het2","hcol":"tau2","text":"Tau"},{"row":"het2","hcol":"se","text":"Standard"}]},"mark":{"type":"text","align":"center","fontWeight":"bold","fontSize":4.5,"dy":0},
    "encoding":{"x":{"field":"hcol","type":"nominal","scale":{"type":"point","domain":["Q","df","P","I2","_g","tau2","se","var","tau","_e"],"padding":0.821,"align":0.109},"axis":null},"y":{"field":"row","type":"nominal","scale":{"type":"band","padding":0,"domain":["_p1","_t","_x","_s","h1","h2","Manchikanti et al 2004","Veihelmann et al 2006","Manchikanti et al 2009 A","Manchikanti et al 2012","Manchikanti et al 2009 B","Gerdesmeyer et al 2013","Summary","het1","het2","het3","het4"]},"axis":null},"text":{"field":"text","type":"nominal"}}},
   {"data":{"values":[{"row":"het3","hcol":"Q","text":"Q-value"},{"row":"het3","hcol":"df","text":"df (Q)"},{"row":"het3","hcol":"P","text":"P-value"},{"row":"het3","hcol":"I2","text":"I-squared"},{"row":"het3","hcol":"tau2","text":"Squared"},{"row":"het3","hcol":"se","text":"Error"},{"row":"het3","hcol":"var","text":"Variance"},{"row":"het3","hcol":"tau","text":"Tau"}]},"mark":{"type":"text","align":"center","fontWeight":"bold","fontSize":4.5,"dy":-9},
    "encoding":{"x":{"field":"hcol","type":"nominal","scale":{"type":"point","domain":["Q","df","P","I2","_g","tau2","se","var","tau","_e"],"padding":0.821,"align":0.109},"axis":null},"y":{"field":"row","type":"nominal","scale":{"type":"band","padding":0,"domain":["_p1","_t","_x","_s","h1","h2","Manchikanti et al 2004","Veihelmann et al 2006","Manchikanti et al 2009 A","Manchikanti et al 2012","Manchikanti et al 2009 B","Gerdesmeyer et al 2013","Summary","het1","het2","het3","het4"]},"axis":null},"text":{"field":"text","type":"nominal"}}},
   {"data":{"name":"cHet"},"transform":[{"fold":["Q","P","I2","tau2","se","var","tau"],"as":["hcol","hval"]}],"mark":{"type":"text","align":"center","fontSize":4.5,"dy":-4},
    "encoding":{"x":{"field":"hcol","type":"nominal","scale":{"type":"point","domain":["Q","df","P","I2","_g","tau2","se","var","tau","_e"],"padding":0.821,"align":0.109},"axis":null},"y":{"datum":"het4","type":"nominal","scale":{"type":"band","padding":0,"domain":["_p1","_t","_x","_s","h1","h2","Manchikanti et al 2004","Veihelmann et al 2006","Manchikanti et al 2009 A","Manchikanti et al 2012","Manchikanti et al 2009 B","Gerdesmeyer et al 2013","Summary","het1","het2","het3","het4"]},"axis":null},"text":{"field":"hval","type":"quantitative","format":".3f"}}},
   {"data":{"name":"cHet"},"mark":{"type":"text","align":"center","fontSize":4.5,"dy":-4},
    "encoding":{"x":{"datum":"df","type":"nominal","scale":{"type":"point","domain":["Q","df","P","I2","_g","tau2","se","var","tau","_e"],"padding":0.821,"align":0.109},"axis":null},"y":{"datum":"het4","type":"nominal","scale":{"type":"band","padding":0,"domain":["_p1","_t","_x","_s","h1","h2","Manchikanti et al 2004","Veihelmann et al 2006","Manchikanti et al 2009 A","Manchikanti et al 2012","Manchikanti et al 2009 B","Gerdesmeyer et al 2013","Summary","het1","het2","het3","het4"]},"axis":null},"text":{"field":"df","type":"nominal"}}}
  ]},
  {"width":225,"height":{"step":16.2},"layer":[
   {"data":{"values":[{"row":"_s","text":"Difference in means and 95% CI"}]},"mark":{"type":"text","align":"center","fontWeight":"bold","dy":-1},
    "encoding":{"x":{"datum":0,"type":"quantitative","scale":{"domain":[-35,35],"nice":false,"zero":false},"axis":{"values":[-35,-17.5,0,17.5,35],"format":".2f","domain":false,"ticks":false,"grid":false,"labelFontSize":10,"labelFontWeight":"bold","labelColor":"#000","labelPadding":7,"labelFlush":false,"title":null}},
     "y":{"field":"row","type":"nominal","scale":{"type":"band","padding":0,"domain":["_p1","_t","_x","_s","h1","h2","Manchikanti et al 2004","Veihelmann et al 2006","Manchikanti et al 2009 A","Manchikanti et al 2012","Manchikanti et al 2009 B","Gerdesmeyer et al 2013","Summary"]},"axis":null},"text":{"field":"text","type":"nominal"}}},
   {"data":{"values":[{}]},"mark":{"type":"rule","strokeWidth":1,"yOffset":6},
    "encoding":{"x":{"datum":-23,"type":"quantitative","scale":{"domain":[-35,35],"nice":false,"zero":false}},"x2":{"datum":23},"y":{"datum":"_s","type":"nominal","bandPosition":0.5,"scale":{"type":"band","padding":0,"domain":["_p1","_t","_x","_s","h1","h2","Manchikanti et al 2004","Veihelmann et al 2006","Manchikanti et al 2009 A","Manchikanti et al 2012","Manchikanti et al 2009 B","Gerdesmeyer et al 2013","Summary"]},"axis":null}}},
   {"data":{"values":[{"t":-35},{"t":-17.5},{"t":0},{"t":17.5},{"t":35}]},"mark":{"type":"rule","strokeWidth":2.5},
    "encoding":{"x":{"field":"t","type":"quantitative","scale":{"domain":[-35,35],"nice":false,"zero":false}},"y":{"datum":"Manchikanti et al 2004","type":"nominal","bandPosition":0,"scale":{"type":"band","padding":0,"domain":["_p1","_t","_x","_s","h1","h2","Manchikanti et al 2004","Veihelmann et al 2006","Manchikanti et al 2009 A","Manchikanti et al 2012","Manchikanti et al 2009 B","Gerdesmeyer et al 2013","Summary"]},"axis":null},"y2":{"value":"height"}}},
   {"data":{"name":"c"},"transform":[{"filter":"datum.study != 'Summary'"}],"mark":{"type":"rule","strokeWidth":3},
    "encoding":{"x":{"field":"lo","type":"quantitative","scale":{"domain":[-35,35],"nice":false,"zero":false}},"x2":{"field":"hi"},"y":{"field":"study","type":"nominal","scale":{"type":"band","padding":0,"domain":["_p1","_t","_x","_s","h1","h2","Manchikanti et al 2004","Veihelmann et al 2006","Manchikanti et al 2009 A","Manchikanti et al 2012","Manchikanti et al 2009 B","Gerdesmeyer et al 2013","Summary"]},"axis":null}}},
   {"data":{"name":"c"},"transform":[{"filter":"datum.study != 'Summary'"}],"mark":{"type":"point","shape":"square","filled":true,"opacity":1,"color":"#000"},
    "encoding":{"x":{"field":"diff","type":"quantitative","scale":{"domain":[-35,35],"nice":false,"zero":false}},"y":{"field":"study","type":"nominal","scale":{"type":"band","padding":0,"domain":["_p1","_t","_x","_s","h1","h2","Manchikanti et al 2004","Veihelmann et al 2006","Manchikanti et al 2009 A","Manchikanti et al 2012","Manchikanti et al 2009 B","Gerdesmeyer et al 2013","Summary"]},"axis":null},
     "size":{"field":"var","type":"quantitative","scale":{"type":"pow","exponent":-1,"domain":[1.44,6.35],"range":[121,36],"zero":false},"legend":null}}},
   {"data":{"name":"c"},"transform":[{"filter":"datum.study == 'Summary'"}],"mark":{"type":"point","shape":"M-0.7,0L0,-1L0.7,0L0,1Z","filled":true,"opacity":1,"color":"#000","size":121},
    "encoding":{"x":{"field":"diff","type":"quantitative","scale":{"domain":[-35,35],"nice":false,"zero":false}},"y":{"field":"study","type":"nominal","scale":{"type":"band","padding":0,"domain":["_p1","_t","_x","_s","h1","h2","Manchikanti et al 2004","Veihelmann et al 2006","Manchikanti et al 2009 A","Manchikanti et al 2012","Manchikanti et al 2009 B","Gerdesmeyer et al 2013","Summary"]},"axis":null}}}
  ]}
 ],"spacing":0,"bounds":"flush"}
]
}
